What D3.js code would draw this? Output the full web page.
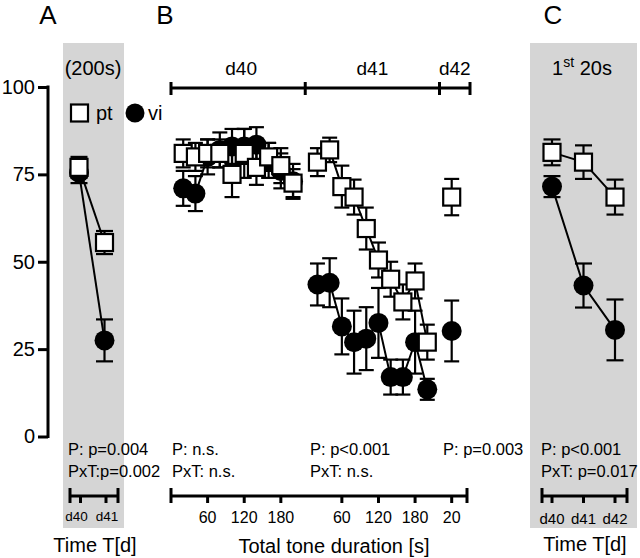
<!DOCTYPE html>
<html><head><meta charset="utf-8">
<script src="https://cdn.jsdelivr.net/npm/d3@7"></script>
<style>body{margin:0;background:#fff}svg{display:block;font-family:"Liberation Sans",Arial,sans-serif}</style>
</head><body><svg id="c" width="640" height="558"></svg>
<script>
// ---------- data ----------
const yTicks = [0, 25, 50, 75, 100];
// Panel A (200s)
const daysA = ["d40", "d41"];
const ptA = [77, 55.5], ptAerr = [3, 3.3];
const viA = [75.5, 27.5], viAerr = [3, 6];
// Panel B: time within each day (s)
const daysB = ["d40", "d41", "d42"];
const dayLen = [220, 220, 50];
const tD40 = [20, 40, 60, 80, 100, 120, 140, 160, 180, 200];
const ptD40 = [81, 80, 81, 81, 75, 81, 77, 80, 77.5, 72.5];
const ptD40err = [4, 4, 4, 4, 6.5, 7, 5, 4, 5, 4];
const viD40 = [71, 69.5, 80, 82, 83, 83, 83.5, 79, 76, 73];
const viD40err = [5, 5, 5, 5, 5, 5, 5, 5, 5, 5];
const tD41 = [20, 40, 60, 80, 100, 120, 140, 160, 180, 200];
const ptD41 = [78.5, 82, 71.5, 68.5, 59.5, 50.5, 45, 38.5, 44.5, 27];
const ptD41err = [4, 3.5, 6, 5, 6, 5, 5, 5, 5, 5];
const viD41 = [43.5, 44, 31.5, 27, 28, 32.5, 17, 17, 27, 13.5];
const viD41err = [6, 7, 8, 9, 9, 10, 5, 5, 9, 3];
const tD42 = [20];
const ptD42 = [68.5], ptD42err = [5.2];
const viD42 = [30.2], viD42err = [8.7];
const bTickT = [[60, 120, 180], [60, 120, 180], [20]];
// Panel C (1st 20s)
const daysC = ["d40", "d41", "d42"];
const ptC = [81.3, 78.5, 68.5], ptCerr = [3.7, 4.8, 5];
const viC = [71.5, 43.2, 30.5], viCerr = [3, 6.3, 8.7];
// stats
const statsA = ["P: p=0.004", "PxT:p=0.002"];
const statsB1 = ["P: n.s.", "PxT: n.s."];
const statsB2 = ["P: p<0.001", "PxT: n.s."];
const statsB3 = ["P: p=0.003"];
const statsC = ["P: p<0.001", "PxT: p=0.017"];

// ---------- scales ----------
const svg = d3.select("#c");
const y = d3.scaleLinear().domain([0, 100]).range([436.5, 87]);
const offsets = [0, dayLen[0], dayLen[0] + dayLen[1]];
const totalT = dayLen[0] + dayLen[1] + dayLen[2];
const xB = d3.scaleLinear().domain([0, totalT]).range([171, 470]);
const xA = d3.scalePoint().domain(daysA).range([79, 104.5]);
const xC = d3.scalePoint().domain(daysC).range([552, 615]);

// gray panels
svg.append("rect").attr("x", 63).attr("y", 43).attr("width", 61).attr("height", 485).attr("fill", "#d5d5d5");
svg.append("rect").attr("x", 530).attr("y", 43).attr("width", 107).attr("height", 485).attr("fill", "#d5d5d5");

// letters
[["A", 48], ["B", 165], ["C", 553]].forEach(([t, x]) =>
  svg.append("text").attr("x", x).attr("y", 24).attr("text-anchor", "middle").attr("font-size", 26).text(t));

// y axis
const ya = svg.append("g").attr("transform", "translate(48,0)")
  .call(d3.axisLeft(y).tickValues(yTicks).tickSize(10).tickSizeOuter(0).tickPadding(3));
ya.select(".domain").attr("stroke-width", 3).attr("d", `M0,${y(0)+1.5}V${y(100)-1.5}`);
ya.selectAll(".tick line").attr("stroke-width", 3);
ya.selectAll(".tick text").attr("font-size", 20).attr("font-family", "Liberation Sans, Arial, sans-serif").attr("fill", "#000");

// helpers
function series(g, pts, shape, cap) {
  const line = d3.line().x(d => d.x).y(d => y(d.v));
  if (pts.length > 1) g.append("path").attr("d", line(pts)).attr("fill", "none").attr("stroke", "#000").attr("stroke-width", 2);
  pts.forEach(d => {
    const gg = g.append("g");
    gg.append("line").attr("x1", d.x).attr("x2", d.x).attr("y1", y(d.v + d.e)).attr("y2", y(d.v - d.e)).attr("stroke", "#000").attr("stroke-width", 2.2);
    [d.v + d.e, d.v - d.e].forEach(v => gg.append("line").attr("x1", d.x - cap / 2).attr("x2", d.x + cap / 2).attr("y1", y(v)).attr("y2", y(v)).attr("stroke", "#000").attr("stroke-width", 2.2));
  });
  pts.forEach(d => {
    if (shape === "sq") g.append("rect").attr("x", d.x - 8.5).attr("y", y(d.v) - 8.5).attr("width", 17).attr("height", 17).attr("fill", "#fff").attr("stroke", "#000").attr("stroke-width", 2.2);
    else g.append("circle").attr("cx", d.x).attr("cy", y(d.v)).attr("r", 10).attr("fill", "#000");
  });
}
const zip = (xs, vs, es, xf) => xs.map((k, i) => ({ x: xf(k), v: vs[i], e: es[i] }));

// Panel A data
const gA = svg.append("g");
series(gA, zip(daysA, viA, viAerr, xA), "ci", 17);
series(gA, zip(daysA, ptA, ptAerr, xA), "sq", 17);

// Panel B data
const gB = svg.append("g");
const bx = di => t => xB(offsets[di] + t);
const viB = [zip(tD40, viD40, viD40err, bx(0)), zip(tD41, viD41, viD41err, bx(1)), zip(tD42, viD42, viD42err, bx(2))];
const ptB = [zip(tD40, ptD40, ptD40err, bx(0)), zip(tD41, ptD41, ptD41err, bx(1)), zip(tD42, ptD42, ptD42err, bx(2))];
viB.forEach(p => series(gB, p, "ci", 15));
ptB.forEach(p => series(gB, p, "sq", 15));

// Panel C data
const gC = svg.append("g");
series(gC, zip(daysC, viC, viCerr, xC), "ci", 17);
series(gC, zip(daysC, ptC, ptCerr, xC), "sq", 17);

// legend
svg.append("rect").attr("x", 71).attr("y", 104.5).attr("width", 17).attr("height", 17).attr("fill", "#fff").attr("stroke", "#000").attr("stroke-width", 2.2);
svg.append("text").attr("x", 96).attr("y", 120).attr("font-size", 20).text("pt");
svg.append("circle").attr("cx", 135).attr("cy", 113).attr("r", 9.5).attr("fill", "#000");
svg.append("text").attr("x", 148).attr("y", 120).attr("font-size", 20).text("vi");

// headers
svg.append("text").attr("x", 93).attr("y", 75).attr("text-anchor", "middle").attr("font-size", 20).text("(200s)");
const hc = svg.append("text").attr("x", 582).attr("y", 75).attr("text-anchor", "middle").attr("font-size", 20);
hc.append("tspan").text("1");
hc.append("tspan").attr("dy", -8).attr("font-size", 14).text("st");
hc.append("tspan").attr("dy", 8).text(" 20s");

// top day bar (B)
const bounds = [0, offsets[1], offsets[2], totalT];
svg.append("line").attr("x1", xB(0)).attr("x2", xB(totalT)).attr("y1", 88).attr("y2", 88).attr("stroke", "#000").attr("stroke-width", 3);
bounds.forEach(t => svg.append("line").attr("x1", xB(t)).attr("x2", xB(t)).attr("y1", 82).attr("y2", 95).attr("stroke", "#000").attr("stroke-width", 3));
daysB.forEach((d, i) => svg.append("text").attr("x", (xB(bounds[i]) + xB(bounds[i + 1])) / 2 + (i === 0 ? 3 : 0))
  .attr("y", 75).attr("text-anchor", "middle").attr("font-size", 19).text(d));

// bottom axes
function bottomAxis(x0, x1, ticks, labels, fs, yBase, dx) {
  const g = svg.append("g");
  g.append("line").attr("x1", x0).attr("x2", x1).attr("y1", 496).attr("y2", 496).attr("stroke", "#000").attr("stroke-width", 3);
  [x0, x1].forEach(x => g.append("line").attr("x1", x).attr("x2", x).attr("y1", 488).attr("y2", 503).attr("stroke", "#000").attr("stroke-width", 3));
  ticks.forEach((x, i) => {
    g.append("line").attr("x1", x).attr("x2", x).attr("y1", 496).attr("y2", 503).attr("stroke", "#000").attr("stroke-width", 3);
    g.append("text").attr("x", x + (dx ? dx[i] : 0)).attr("y", yBase).attr("text-anchor", "middle").attr("font-size", fs).text(labels[i]);
  });
}
bottomAxis(70, 118, daysA.map(d => xA(d) + 1.5), daysA, 13.5, 521, [-4, 1]);
const bt = [], bl = [];
bTickT.forEach((ts, di) => ts.forEach(t => { bt.push(xB(offsets[di] + t)); bl.push(String(t)); }));
bottomAxis(xB(0), 467, bt, bl, 16, 523);
bottomAxis(542, 627, daysC.map(d => xC(d)), daysC, 15, 524);

// stats text
function stats(lines, x) {
  lines.forEach((t, i) => svg.append("text").attr("x", x).attr("y", 455 + i * 22).attr("font-size", 16.5).text(t));
}
stats(statsA, 68);
stats(statsB1, 172);
stats(statsB2, 310);
stats(statsB3, 443);
stats(statsC, 541);

// axis titles
svg.append("text").attr("x", 95).attr("y", 552).attr("text-anchor", "middle").attr("font-size", 20).text("Time T[d]");
svg.append("text").attr("x", 334).attr("y", 553).attr("text-anchor", "middle").attr("font-size", 20).text("Total tone duration [s]");
svg.append("text").attr("x", 585).attr("y", 551).attr("text-anchor", "middle").attr("font-size", 20).text("Time T[d]");
</script></body></html>
